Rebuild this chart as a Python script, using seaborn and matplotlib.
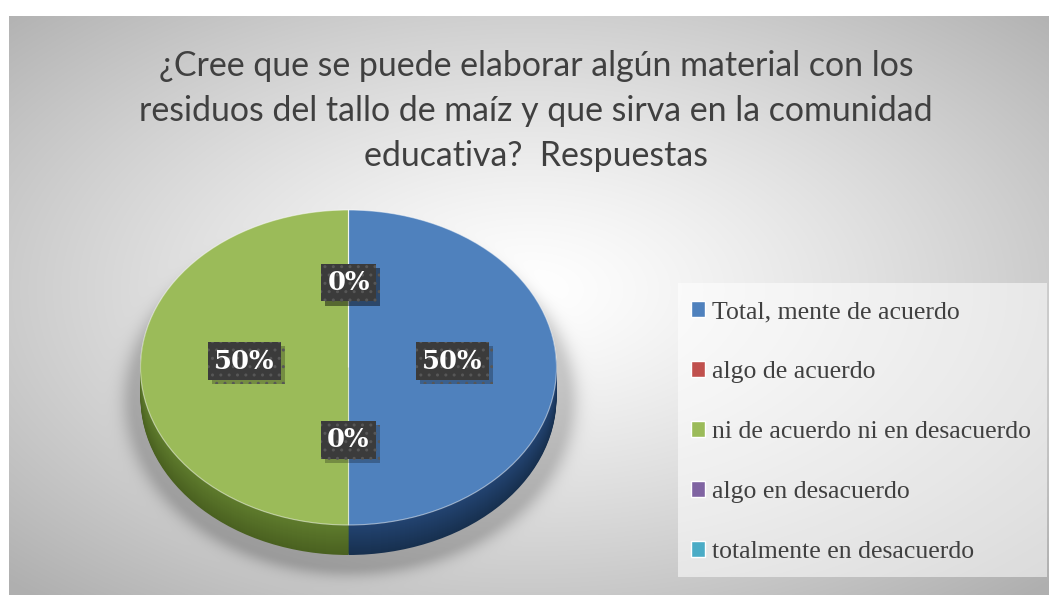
import numpy as np
import matplotlib
matplotlib.use('Agg')
import matplotlib.pyplot as plt
import matplotlib.patheffects as pe
from matplotlib.patches import Rectangle, Patch
from matplotlib.colors import to_rgb
import seaborn as sns

# -----------------------------
# Datos
# -----------------------------
categorias = ['Total, mente de acuerdo', 'algo de acuerdo',
              'ni de acuerdo ni en desacuerdo', 'algo en desacuerdo',
              'totalmente en desacuerdo']
porcentajes = [50, 0, 50, 0, 0]
colores = ['#4f81bd', '#c0504d', '#9bbb59', '#8064a2', '#4bacc6']
titulo = ('¿Cree que se puede elaborar algún material con los\n'
          'residuos del tallo de maíz y que sirva en la comunidad\n'
          'educativa?  Respuestas')

sns.set_theme(style='white')
paleta = sns.color_palette(colores)

W, H = 1049, 595
fig = plt.figure(figsize=(W / 100, H / 100), dpi=100)
fig.patch.set_facecolor('white')

# -----------------------------
# Fondo con degradado radial + sombra del pastel
# -----------------------------
bg = fig.add_axes([0, 0, 1, 1])
bg.set_xlim(0, W)
bg.set_ylim(H, 0)
bg.axis('off')
xx, yy = np.meshgrid(np.arange(9, W) + 0.5, np.arange(16, H) + 0.5)
r = np.sqrt(((xx - 530) / 520) ** 2 + ((yy - 290) / 290) ** 2) / np.sqrt(2)
val = 1 - 0.31 * np.clip(r, 0, 1) ** 1.25
d = np.sqrt(((xx - 350) / 214) ** 2 + ((yy - 400) / 166) ** 2)
val -= 0.18 * np.exp(-np.clip(d - 1, 0, None) ** 2 / (2 * 0.05 ** 2))
bg.imshow(np.dstack([val] * 3), extent=(9, W, H, 16), interpolation='bilinear', aspect='auto')
bg.add_patch(Rectangle((678, 283), 369, 294, facecolor='white', alpha=0.55, lw=0))

# -----------------------------
# Pastel "3D"
# -----------------------------
rx, ry, prof = 208, 157.5, 30
top_px, bot_px = 210, 210 + 2 * ry + prof + 2
ax = fig.add_axes([(348.5 - rx) / W, 1 - bot_px / H, 2 * rx / W, (bot_px - top_px) / H])

lado_claro = ['#234472', '#7a2c2a', '#5f7c2d', '#47365e', '#2a6272']
lado_oscuro = ['#17304f', '#5a1f1e', '#4a6120', '#352847', '#1e4b57']
capas = 30
for i in range(capas, 0, -1):
    t = i / capas
    cols = [tuple(np.array(to_rgb(a)) * (1 - t) + np.array(to_rgb(b)) * t)
            for a, b in zip(lado_claro, lado_oscuro)]
    ax.pie(porcentajes, colors=cols, startangle=90, counterclock=False,
           center=(0, -prof / ry * t), radius=1, wedgeprops=dict(linewidth=0))

wedges, _, autotexts = ax.pie(
    porcentajes, colors=paleta, startangle=90, counterclock=False,
    autopct='%1.0f%%', pctdistance=0.5,
    wedgeprops=dict(linewidth=0.8, edgecolor=(1, 1, 1, 0.5)),
    textprops=dict(color='white', fontsize=18.5, fontweight='bold', family='DejaVu Serif'))

for t in autotexts:
    x, y = t.get_position()
    t.set_position((x, y + 0.04))
    t.set_bbox(dict(boxstyle='square,pad=0.25', facecolor='#3b3b3b',
                    edgecolor='#575757', hatch='..', linewidth=0))
    t.get_bbox_patch().set_path_effects([
        pe.SimplePatchShadow(offset=(3, -3), shadow_rgbFace='black', alpha=0.25),
        pe.Normal()])

ax.set_aspect('auto')
ax.set_xlim(-1, 1)
ax.set_ylim(1 - (bot_px - top_px) / ry, 1)
ax.axis('off')

# -----------------------------
# Título y leyenda
# -----------------------------
fig.text(536 / W, 1 - 111 / H, titulo, ha='center', va='center',
         fontsize=24.4, family='Lato', color='#404040', linespacing=1.5)

handles = [Patch(facecolor=c) for c in paleta]
fig.legend(handles, categorias, loc='upper left',
           bbox_to_anchor=(691 / W, 1 - 301 / H), bbox_transform=fig.transFigure,
           frameon=False, borderpad=0, borderaxespad=0,
           handlelength=0.55, handleheight=0.6, handletextpad=0.28,
           labelspacing=1.47, labelcolor='#404040',
           prop=dict(family='Liberation Serif', size=18.5))

fig.savefig('out.png', dpi=100)
